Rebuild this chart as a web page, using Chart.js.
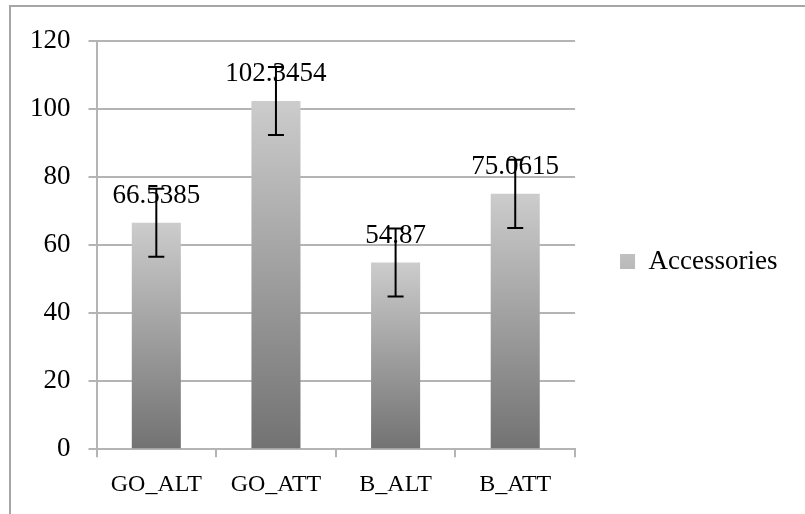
<!DOCTYPE html>
<html>
<head>
<meta charset="utf-8">
<script src="https://cdn.jsdelivr.net/npm/chart.js@4.4.1/dist/chart.umd.min.js"></script>
<style>
  html, body { margin: 0; padding: 0; background: #fff; }
</style>
</head>
<body>
<canvas id="barChart" width="805" height="514"></canvas>
<script>
const categories = ['GO_ALT', 'GO_ATT', 'B_ALT', 'B_ATT'];
const accessories = [66.5385, 102.3454, 54.87, 75.0615];
const errors = [10, 10, 10, 10];
const valueLabels = ['66.5385', '102.3454', '54.87', '75.0615'];
const yMin = 0;
const yMax = 120;
const yStep = 20;

const serif = '"Liberation Serif", "DejaVu Serif", serif';
const gridColor = '#b4b4b4';

// each bar gets its own light-to-dark gradient
function barFill(context) {
    const chart = context.chart;
    const { ctx, chartArea } = chart;
    if (!chartArea || context.type !== 'data') return '#a8a8a8';
    const yScale = chart.scales.y;
    const top = yScale.getPixelForValue(context.raw);
    const base = yScale.getPixelForValue(0);
    const g = ctx.createLinearGradient(0, top, 0, base);
    g.addColorStop(0, '#cccccc');
    g.addColorStop(1, '#727272');
    return g;
}

const frame = {
    id: 'frame',
    beforeDraw(chart) {
        const ctx = chart.ctx;
        ctx.save();
        ctx.fillStyle = '#fff';
        ctx.fillRect(0, 0, chart.width, chart.height);
        ctx.strokeStyle = '#a6a6a6';
        ctx.lineWidth = 2;
        ctx.strokeRect(10, 6, chart.width + 20, chart.height + 20);
        ctx.restore();
    }
};

const errorBars = {
    id: 'errorBars',
    afterDatasetsDraw(chart) {
        const ctx = chart.ctx;
        const y = chart.scales.y;
        const meta = chart.getDatasetMeta(0);
        ctx.save();
        ctx.font = '27px ' + serif;
        ctx.fillStyle = '#000';
        ctx.textAlign = 'center';
        ctx.textBaseline = 'alphabetic';
        meta.data.forEach((bar, i) => {
            ctx.fillText(valueLabels[i], bar.x, bar.y - 20);
        });
        ctx.strokeStyle = '#000';
        ctx.lineWidth = 2;
        meta.data.forEach((bar, i) => {
            const top = y.getPixelForValue(accessories[i] + errors[i]);
            const bot = y.getPixelForValue(accessories[i] - errors[i]);
            ctx.beginPath();
            ctx.moveTo(bar.x, top);
            ctx.lineTo(bar.x, bot);
            ctx.moveTo(bar.x - 8, top);
            ctx.lineTo(bar.x + 8, top);
            ctx.moveTo(bar.x - 8, bot);
            ctx.lineTo(bar.x + 8, bot);
            ctx.stroke();
        });
        ctx.restore();
    }
};

const ctx = document.getElementById('barChart').getContext('2d');
new Chart(ctx, {
    type: 'bar',
    data: {
        labels: categories,
        datasets: [{
            label: 'Accessories',
            data: accessories,
            backgroundColor: barFill,
            borderWidth: 0,
            barPercentage: 0.41,
            categoryPercentage: 1
        }]
    },
    options: {
        responsive: false,
        animation: false,
        layout: {
            padding: { top: 41, left: 12, right: 17.5, bottom: 2 }
        },
        plugins: {
            tooltip: { enabled: false },
            legend: {
                position: 'right',
                fullSize: false,
                maxWidth: 300,
                // empty title only nudges the entry down a little
                title: {
                    display: true,
                    text: ' ',
                    padding: 0,
                    font: { size: 10, lineHeight: '33px' }
                },
                labels: {
                    font: { family: serif, size: 27 },
                    color: '#000',
                    boxWidth: 15,
                    boxHeight: 15,
                    padding: 45
                }
            }
        },
        scales: {
            x: {
                grid: {
                    drawOnChartArea: false,
                    color: gridColor,
                    lineWidth: 2,
                    tickLength: 8
                },
                border: { color: gridColor, width: 2 },
                ticks: {
                    font: { family: serif, size: 24 },
                    color: '#000',
                    padding: 13
                }
            },
            y: {
                min: yMin,
                max: yMax,
                grid: {
                    color: gridColor,
                    lineWidth: 2,
                    tickLength: 8
                },
                border: { color: gridColor, width: 2 },
                ticks: {
                    stepSize: yStep,
                    font: { family: serif, size: 27 },
                    color: '#000',
                    padding: 18
                }
            }
        }
    },
    plugins: [frame, errorBars]
});
</script>
</body>
</html>
